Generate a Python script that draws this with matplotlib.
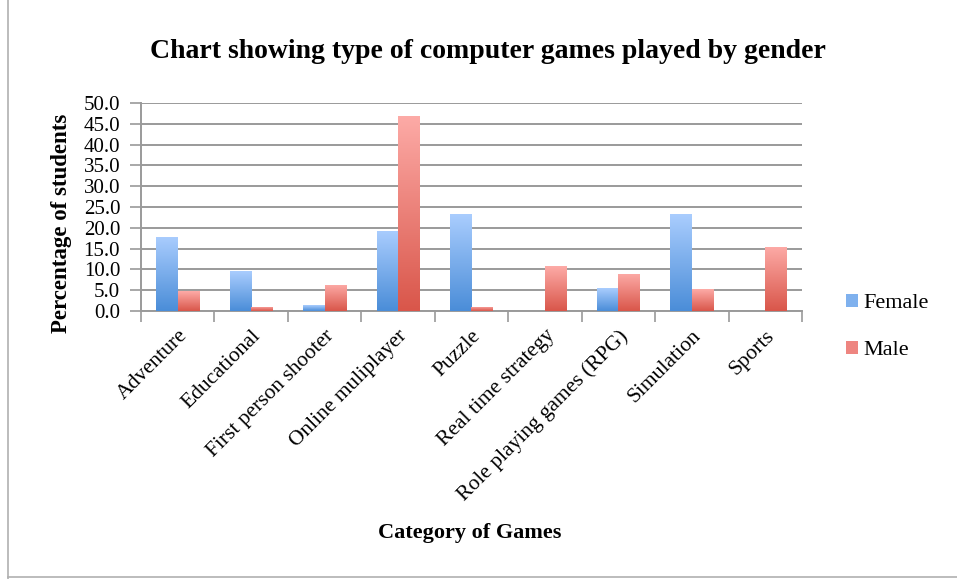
import numpy as np
import matplotlib
matplotlib.use("Agg")
import matplotlib.pyplot as plt
from matplotlib.colors import LinearSegmentedColormap
from matplotlib.lines import Line2D
from matplotlib.patches import Patch

categories = ["Adventure", "Educational", "First person shooter", "Online muliplayer",
              "Puzzle", "Real time strategy", "Role playing games (RPG)", "Simulation", "Sports"]
female = [17.8, 9.6, 1.4, 19.3, 23.3, 0.0, 5.5, 23.3, 0.0]
male = [4.7, 1.0, 6.3, 46.9, 1.0, 10.8, 8.9, 5.2, 15.4]
yticks = [0, 5, 10, 15, 20, 25, 30, 35, 40, 45, 50]

plt.rcParams['font.family'] = ['Liberation Serif', 'DejaVu Serif']

fig = plt.figure(figsize=(9.57, 5.79), dpi=100)
ax = fig.add_axes([141/957, 1-311/579, (802-141)/957, (311-103)/579])

x = np.arange(len(categories))
w = 0.293
fb = ax.bar(x - w/2, female, w, color="#7fb1ee", zorder=3, linewidth=0)
mb = ax.bar(x + w/2, male, w, color="#ee8580", zorder=3, linewidth=0)

cm_f = LinearSegmentedColormap.from_list("f", ["#4a8dd8", "#aacdfe"])
cm_m = LinearSegmentedColormap.from_list("m", ["#d9564a", "#fdaba7"])
grad = np.linspace(0, 1, 256).reshape(-1, 1)
for bars, cm in ((fb, cm_f), (mb, cm_m)):
    for b in bars:
        h = b.get_height()
        if h <= 0:
            continue
        bx, by = b.get_x(), b.get_y()
        im = ax.imshow(grad, cmap=cm, aspect="auto", origin="lower",
                       extent=(bx, bx + b.get_width(), by, by + h), zorder=4)
        im.set_clip_path(b)

ax.set_xlim(-0.5, len(categories) - 0.5)
ax.set_ylim(0, 50)
ax.set_yticks(yticks)
ax.set_yticklabels([f"{v:.1f}" for v in yticks], fontsize=15)
ax.yaxis.grid(True, color="#9a9a9a", linewidth=1.4, zorder=0)
ax.set_axisbelow(True)
ax.tick_params(axis="y", length=8, width=1.2, color="#9a9a9a", pad=7)

ax.set_xticks(x)
ax.set_xticklabels(categories, rotation=45, ha="right", rotation_mode="anchor", fontsize=15.5)
ax.set_xticks(np.arange(-0.5, len(categories)), minor=True)
ax.tick_params(axis="x", which="major", length=0, pad=11)
ax.tick_params(axis="x", which="minor", length=8, width=1.2, color="#9a9a9a")

for s in ["top", "right"]:
    ax.spines[s].set_visible(False)
for s in ["left", "bottom"]:
    ax.spines[s].set_color("#9a9a9a")
    ax.spines[s].set_linewidth(1.4)

ax.set_ylabel("Percentage of students", fontsize=16.5, fontweight="bold")
ax.yaxis.set_label_coords(-69/661, 0.42)
fig.text(470/957, 1-533/579, "Category of Games", fontsize=16, fontweight="bold",
         ha="center", va="center")
fig.text(488/957, 1-51/579, "Chart showing type of computer games played by gender",
         fontsize=20, fontweight="bold", ha="center", va="center")

handles = [Patch(facecolor="#7fb1ee"), Patch(facecolor="#ee8580")]
leg = fig.legend(handles, ["Female", "Male"], loc="center left",
                 bbox_to_anchor=(826/957, 1-327/579), frameon=False, fontsize=16,
                 handlelength=0.55, handleheight=0.55, handletextpad=0.25, labelspacing=1.25)

fig.add_artist(Line2D([8/957, 8/957], [0, 1], color="#b0b0b0", linewidth=1.2,
                      transform=fig.transFigure))
fig.add_artist(Line2D([8/957, 1], [2/579, 2/579], color="#b0b0b0", linewidth=1.2,
                      transform=fig.transFigure))

fig.savefig("out.png", dpi=100)
